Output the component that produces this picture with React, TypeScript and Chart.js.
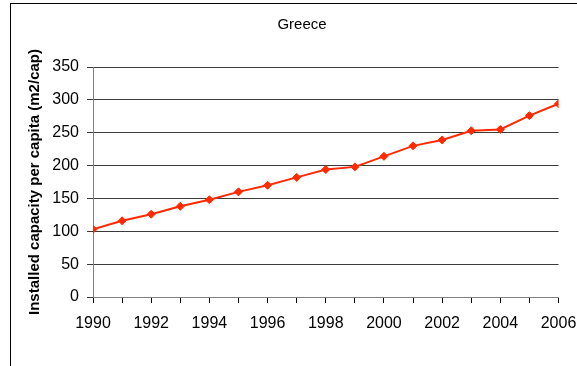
import React, { useEffect, useRef } from "react";
import { Chart, registerables } from "chart.js";

Chart.register(...registerables);

const years = [1990, 1991, 1992, 1993, 1994, 1995, 1996, 1997, 1998, 1999, 2000, 2001, 2002, 2003, 2004, 2005, 2006];
const capacity = [103, 116, 126, 138, 148, 160, 170, 182, 194, 198, 214, 230, 239, 253, 255, 276, 294];
const chartTitle = "Greece";
const yAxisTitle = "Installed capacity per capita (m2/cap)";

const FONT = "Arial, 'Liberation Sans', sans-serif";

// Outer frame and centred title, drawn straight onto the canvas
const framePlugin = {
  id: "frame",
  beforeDraw(chart: Chart) {
    const ctx = chart.ctx;
    ctx.save();
    ctx.fillStyle = "#ffffff";
    ctx.fillRect(0, 0, chart.width, chart.height);
    ctx.strokeStyle = "#000000";
    ctx.lineWidth = 1;
    ctx.strokeRect(10.5, 3.5, 800, 800);
    ctx.restore();
  },
  afterDraw(chart: Chart) {
    const ctx = chart.ctx;
    ctx.save();
    ctx.fillStyle = "#000000";
    ctx.font = `15px ${FONT}`;
    ctx.textAlign = "center";
    ctx.textBaseline = "middle";
    ctx.fillText(chartTitle, 302, 25);
    ctx.restore();
  },
};

export default function App() {
  const ref = useRef<HTMLCanvasElement | null>(null);

  useEffect(() => {
    document.body.style.margin = "0";
    document.body.style.overflow = "hidden";
    if (!ref.current) return;
    const chart = new Chart(ref.current, {
      type: "line",
      data: {
        datasets: [
          {
            data: years.map((y, i) => ({ x: y, y: capacity[i] })),
            borderColor: "#ff2a00",
            backgroundColor: "#ff2a00",
            borderWidth: 2,
            pointStyle: "rectRot",
            pointRadius: 4,
            pointBorderWidth: 1,
            tension: 0,
          },
        ],
      },
      plugins: [framePlugin],
      options: {
        animation: false,
        responsive: false,
        maintainAspectRatio: false,
        layout: { padding: { left: 0, right: 0, top: 67, bottom: 0 } },
        plugins: {
          legend: { display: false },
          title: { display: false },
          tooltip: { enabled: false },
        },
        scales: {
          x: {
            type: "linear",
            min: 1990,
            max: 2006,
            afterFit(scale: any) {
              scale.height = 69;
              scale.paddingLeft = 0;
              scale.paddingRight = 18.5;
            },
            ticks: {
              stepSize: 1,
              autoSkip: false,
              maxRotation: 0,
              padding: 11,
              color: "#000000",
              font: { family: FONT, size: 16 },
              callback: (v: any) => (Number(v) % 2 === 0 ? String(v) : ""),
            },
            grid: {
              drawOnChartArea: false,
              drawTicks: true,
              tickLength: 6,
              color: "#000000",
            },
            border: { color: "#808080", width: 1 },
          },
          y: {
            min: 0,
            max: 350,
            afterFit(scale: any) {
              scale.width = 93;
            },
            ticks: {
              stepSize: 50,
              padding: 8,
              color: "#000000",
              font: { family: FONT, size: 16 },
            },
            grid: {
              color: "#3a3a3a",
              lineWidth: 1,
              tickLength: 6,
              drawTicks: true,
            },
            border: { color: "#808080", width: 1 },
            title: {
              display: true,
              text: yAxisTitle,
              color: "#000000",
              font: { family: FONT, size: 15, weight: "bold" },
              padding: { top: 26, bottom: 0 },
            },
          },
        },
      },
    });
    return () => chart.destroy();
  }, []);

  return (
    <div style={{ position: "fixed", left: 0, top: 0, width: 577, height: 366 }}>
      <canvas ref={ref} width={577} height={366} />
    </div>
  );
}
